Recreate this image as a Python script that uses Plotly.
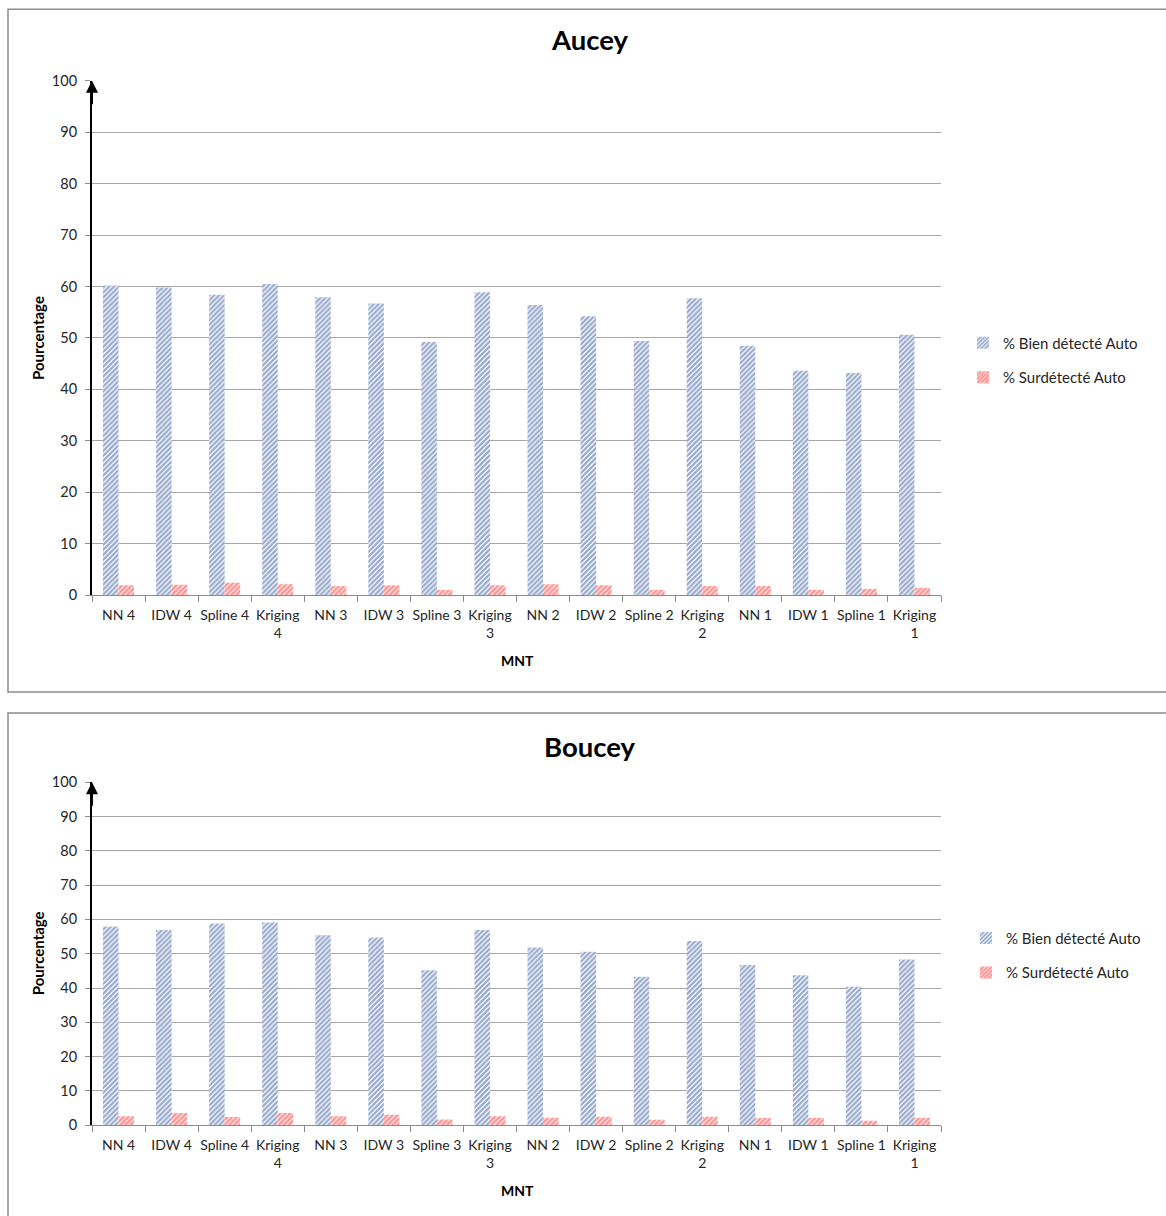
import plotly.graph_objects as go

W, H = 1166, 1216

categories = ["NN 4", "IDW 4", "Spline 4", "Kriging 4", "NN 3", "IDW 3", "Spline 3", "Kriging 3",
              "NN 2", "IDW 2", "Spline 2", "Kriging 2", "NN 1", "IDW 1", "Spline 1", "Kriging 1"]
tick_labels = ["NN 4", "IDW 4", "Spline 4", "Kriging<br>4", "NN 3", "IDW 3", "Spline 3", "Kriging<br>3",
               "NN 2", "IDW 2", "Spline 2", "Kriging<br>2", "NN 1", "IDW 1", "Spline 1", "Kriging<br>1"]

aucey_bien = [60.2, 59.8, 58.4, 60.5, 57.9, 56.7, 49.2, 58.9, 56.4, 54.2, 49.4, 57.7, 48.5, 43.6, 43.2, 50.6]
aucey_sur = [1.9, 2.0, 2.4, 2.1, 1.75, 1.9, 1.0, 1.9, 2.1, 1.9, 1.0, 1.75, 1.75, 1.0, 1.2, 1.4]
boucey_bien = [57.9, 56.9, 58.8, 59.1, 55.4, 54.7, 45.2, 56.9, 51.8, 50.6, 43.3, 53.7, 46.7, 43.7, 40.4, 48.3]
boucey_sur = [2.6, 3.6, 2.4, 3.6, 2.6, 3.1, 1.7, 2.6, 2.2, 2.5, 1.6, 2.5, 2.1, 2.1, 1.3, 2.2]

series_names = ["% Bien détecté Auto", "% Surdétecté Auto"]
titles = ["Aucey", "Boucey"]

FONT = "Lato"
BLUE = "#30549a"
RED = "#ff2020"
TXT = "#262626"


def px(x):
    return x / W


def py(y):
    # vertical placement in page pixels (compensated for the page offset seen in renders)
    y = (y - 9.2) / 0.9856
    return 1 - y / H


def bar_marker(col, solidity):
    return dict(color="white",
                pattern=dict(shape="/", fgcolor=col, bgcolor="white", size=3.5, solidity=solidity),
                line=dict(width=0))


fig = go.Figure()

panels = [
    dict(bien=aucey_bien, sur=aucey_sur, xa="x", ya="y", legend="legend"),
    dict(bien=boucey_bien, sur=boucey_sur, xa="x2", ya="y2", legend="legend2"),
]

for i, p in enumerate(panels):
    fig.add_trace(go.Bar(x=categories, y=p["bien"], name=series_names[0], xaxis=p["xa"], yaxis=p["ya"],
                         marker=bar_marker(BLUE, 0.65), legend=p["legend"], legendgroup=f"a{i}"))
    fig.add_trace(go.Bar(x=categories, y=p["sur"], name=series_names[1], xaxis=p["xa"], yaxis=p["ya"],
                         marker=bar_marker(RED, 0.7), legend=p["legend"], legendgroup=f"b{i}"))

xcommon = dict(type="category", categoryorder="array", categoryarray=categories,
               tickmode="array", tickvals=categories, ticktext=tick_labels, tickangle=0,
               showline=True, linecolor="#8c8c8c", linewidth=1,
               ticks="outside", tickson="boundaries", ticklen=6, tickcolor="#8c8c8c",
               ticklabelstandoff=7,
               showgrid=False, tickfont=dict(family=FONT, size=14, color=TXT),
               domain=[px(92), px(941)], fixedrange=True)
ycommon = dict(range=[0, 100], tickvals=list(range(0, 101, 10)),
               showline=True, linecolor="black", linewidth=2,
               ticks="outside", ticklen=5, tickcolor="#8c8c8c", ticklabelstandoff=5,
               showgrid=True, gridcolor="#a6a6a6", gridwidth=1, zeroline=False,
               tickfont=dict(family=FONT, size=14.5, color=TXT), fixedrange=True)

legend_common = dict(xanchor="left", yanchor="top",
                     font=dict(family=FONT, size=15, color=TXT),
                     traceorder="grouped", tracegroupgap=12, itemwidth=30,
                     bgcolor="rgba(0,0,0,0)")

fig.update_layout(
    width=W, height=H, margin=dict(l=0, r=0, t=0, b=0),
    paper_bgcolor="white", plot_bgcolor="white",
    barmode="group", bargap=0.415, bargroupgap=0,
    xaxis=dict(xcommon, anchor="y"),
    yaxis=dict(ycommon, anchor="x", domain=[py(595), py(81)]),
    xaxis2=dict(xcommon, anchor="y2"),
    yaxis2=dict(ycommon, anchor="x2", domain=[py(1125), py(782)]),
    legend=dict(legend_common, x=px(963), y=py(326.5)),
    legend2=dict(legend_common, x=px(966), y=py(921.5)),
    showlegend=True,
)

# Chart boxes
fig.add_shape(type="rect", xref="paper", yref="paper", x0=px(8), x1=px(1172), y0=py(692), y1=py(9.5),
              line=dict(color="#8c8c8c", width=1.5), fillcolor="rgba(0,0,0,0)", layer="below")
fig.add_shape(type="rect", xref="paper", yref="paper", x0=px(8), x1=px(1172), y0=py(1240), y1=py(713),
              line=dict(color="#8c8c8c", width=1.5), fillcolor="rgba(0,0,0,0)", layer="below")

anns = []
title_y = [40, 746]
ytitle_y = [338, 953]
mnt_y = [660, 1190]
for i, p in enumerate(panels):
    anns.append(dict(text=f"<b>{titles[i]}</b>", x=px(590), y=py(title_y[i]), xref="paper", yref="paper",
                     showarrow=False, font=dict(family=FONT, size=27.5, color="black"),
                     xanchor="center", yanchor="middle"))
    anns.append(dict(text="<b>Pourcentage</b>", x=px(38), y=py(ytitle_y[i]), xref="paper", yref="paper",
                     showarrow=False, textangle=-90, font=dict(family=FONT, size=15, color="black"),
                     xanchor="center", yanchor="middle"))
    anns.append(dict(text="<b>MNT</b>", x=px(517), y=py(mnt_y[i]), xref="paper", yref="paper",
                     showarrow=False, font=dict(family=FONT, size=14, color="black"),
                     xanchor="center", yanchor="middle"))
    anns.append(dict(text="", x=px(92), y=100, xref="paper", yref=p["ya"],
                     showarrow=True, ax=0, ay=25, arrowhead=2, arrowsize=1.2, arrowwidth=2,
                     arrowcolor="black", standoff=0))
fig.update_layout(annotations=anns)

post = ("var st=document.createElement('style');"
        "st.textContent='html,body{margin:0!important;padding:0!important;overflow:hidden;}'"
        "+'.plotly-graph-div{position:fixed!important;top:0!important;left:0!important;}';"
        "document.head.appendChild(st);")

fig.write_html("out.html", post_script=post, config={"displayModeBar": False})
